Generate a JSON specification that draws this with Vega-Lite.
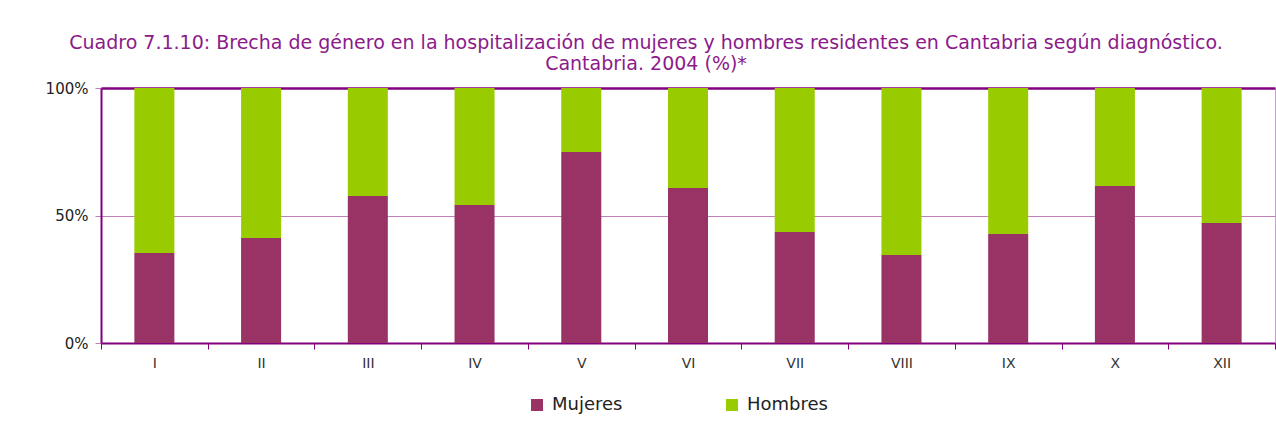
{
  "$schema": "https://vega.github.io/schema/vega-lite/v6.json",
  "width": 1174,
  "height": 255,
  "autosize": {"type": "none"},
  "padding": {"left": 101, "top": 88, "right": 1, "bottom": 84},
  "background": "white",
  "title": {
    "text": ["Cuadro 7.1.10: Brecha de género en la hospitalización de mujeres y hombres residentes en Cantabria según diagnóstico.", "Cantabria. 2004 (%)*"],
    "color": "#8B1A8B",
    "font": "DejaVu Sans",
    "fontSize": 19,
    "fontWeight": "normal",
    "anchor": "middle",
    "dx": -42,
    "offset": 7,
    "lineHeight": 21
  },
  "config": {
    "view": {"stroke": "#c8a0c8", "strokeWidth": 1},
    "font": "DejaVu Sans"
  },
  "data": {
    "values": [
      {"diag": "I", "sexo": "Mujeres", "pct": 35.3},
      {"diag": "I", "sexo": "Hombres", "pct": 64.7},
      {"diag": "II", "sexo": "Mujeres", "pct": 41.2},
      {"diag": "II", "sexo": "Hombres", "pct": 58.8},
      {"diag": "III", "sexo": "Mujeres", "pct": 57.6},
      {"diag": "III", "sexo": "Hombres", "pct": 42.4},
      {"diag": "IV", "sexo": "Mujeres", "pct": 54.1},
      {"diag": "IV", "sexo": "Hombres", "pct": 45.9},
      {"diag": "V", "sexo": "Mujeres", "pct": 74.9},
      {"diag": "V", "sexo": "Hombres", "pct": 25.1},
      {"diag": "VI", "sexo": "Mujeres", "pct": 60.8},
      {"diag": "VI", "sexo": "Hombres", "pct": 39.2},
      {"diag": "VII", "sexo": "Mujeres", "pct": 43.5},
      {"diag": "VII", "sexo": "Hombres", "pct": 56.5},
      {"diag": "VIII", "sexo": "Mujeres", "pct": 34.5},
      {"diag": "VIII", "sexo": "Hombres", "pct": 65.5},
      {"diag": "IX", "sexo": "Mujeres", "pct": 42.7},
      {"diag": "IX", "sexo": "Hombres", "pct": 57.3},
      {"diag": "X", "sexo": "Mujeres", "pct": 61.6},
      {"diag": "X", "sexo": "Hombres", "pct": 38.4},
      {"diag": "XII", "sexo": "Mujeres", "pct": 47.1},
      {"diag": "XII", "sexo": "Hombres", "pct": 52.9}
    ]
  },
  "mark": {"type": "bar", "width": {"band": 0.375}},
  "encoding": {
    "x": {
      "field": "diag",
      "type": "nominal",
      "sort": null,
      "scale": {"paddingInner": 0, "paddingOuter": 0},
      "axis": {
        "title": null,
        "labelAngle": 0,
        "labelFont": "DejaVu Sans",
        "labelFontSize": 14,
        "labelColor": "#333333",
        "labelPadding": 7,
        "domainColor": "#800080",
        "domainWidth": 2,
        "tickColor": "#800080",
        "tickSize": 6,
        "tickBand": "extent"
      }
    },
    "y": {
      "field": "pct",
      "type": "quantitative",
      "stack": "normalize",
      "scale": {"domain": [0, 1]},
      "axis": {
        "title": null,
        "values": [0, 0.5, 1],
        "format": ".0%",
        "labelFont": "DejaVu Sans",
        "labelFontSize": 15,
        "labelColor": "#222222",
        "labelPadding": 7,
        "domainColor": "#800080",
        "domainWidth": 2,
        "tickColor": "#c080b8",
        "tickSize": 6,
        "grid": true,
        "gridColor": {"condition": {"test": "datum.value === 1", "value": "#800080"}, "value": "#c080b8"},
        "gridWidth": {"condition": {"test": "datum.value === 1", "value": 2.5}, "value": 1}
      }
    },
    "color": {
      "field": "sexo",
      "type": "nominal",
      "scale": {"domain": ["Mujeres", "Hombres"], "range": ["#993366", "#99CC00"]},
      "legend": {
        "title": null,
        "orient": "none",
        "legendX": 427,
        "legendY": 308,
        "direction": "horizontal",
        "symbolType": "square",
        "symbolSize": 144,
        "symbolStrokeWidth": 0,
        "symbolOpacity": 1,
        "labelFont": "DejaVu Sans",
        "labelFontSize": 18,
        "labelColor": "#222222",
        "labelOffset": 6,
        "columnPadding": 100
      }
    },
    "order": {"field": "sexo", "sort": "descending"}
  }
}
